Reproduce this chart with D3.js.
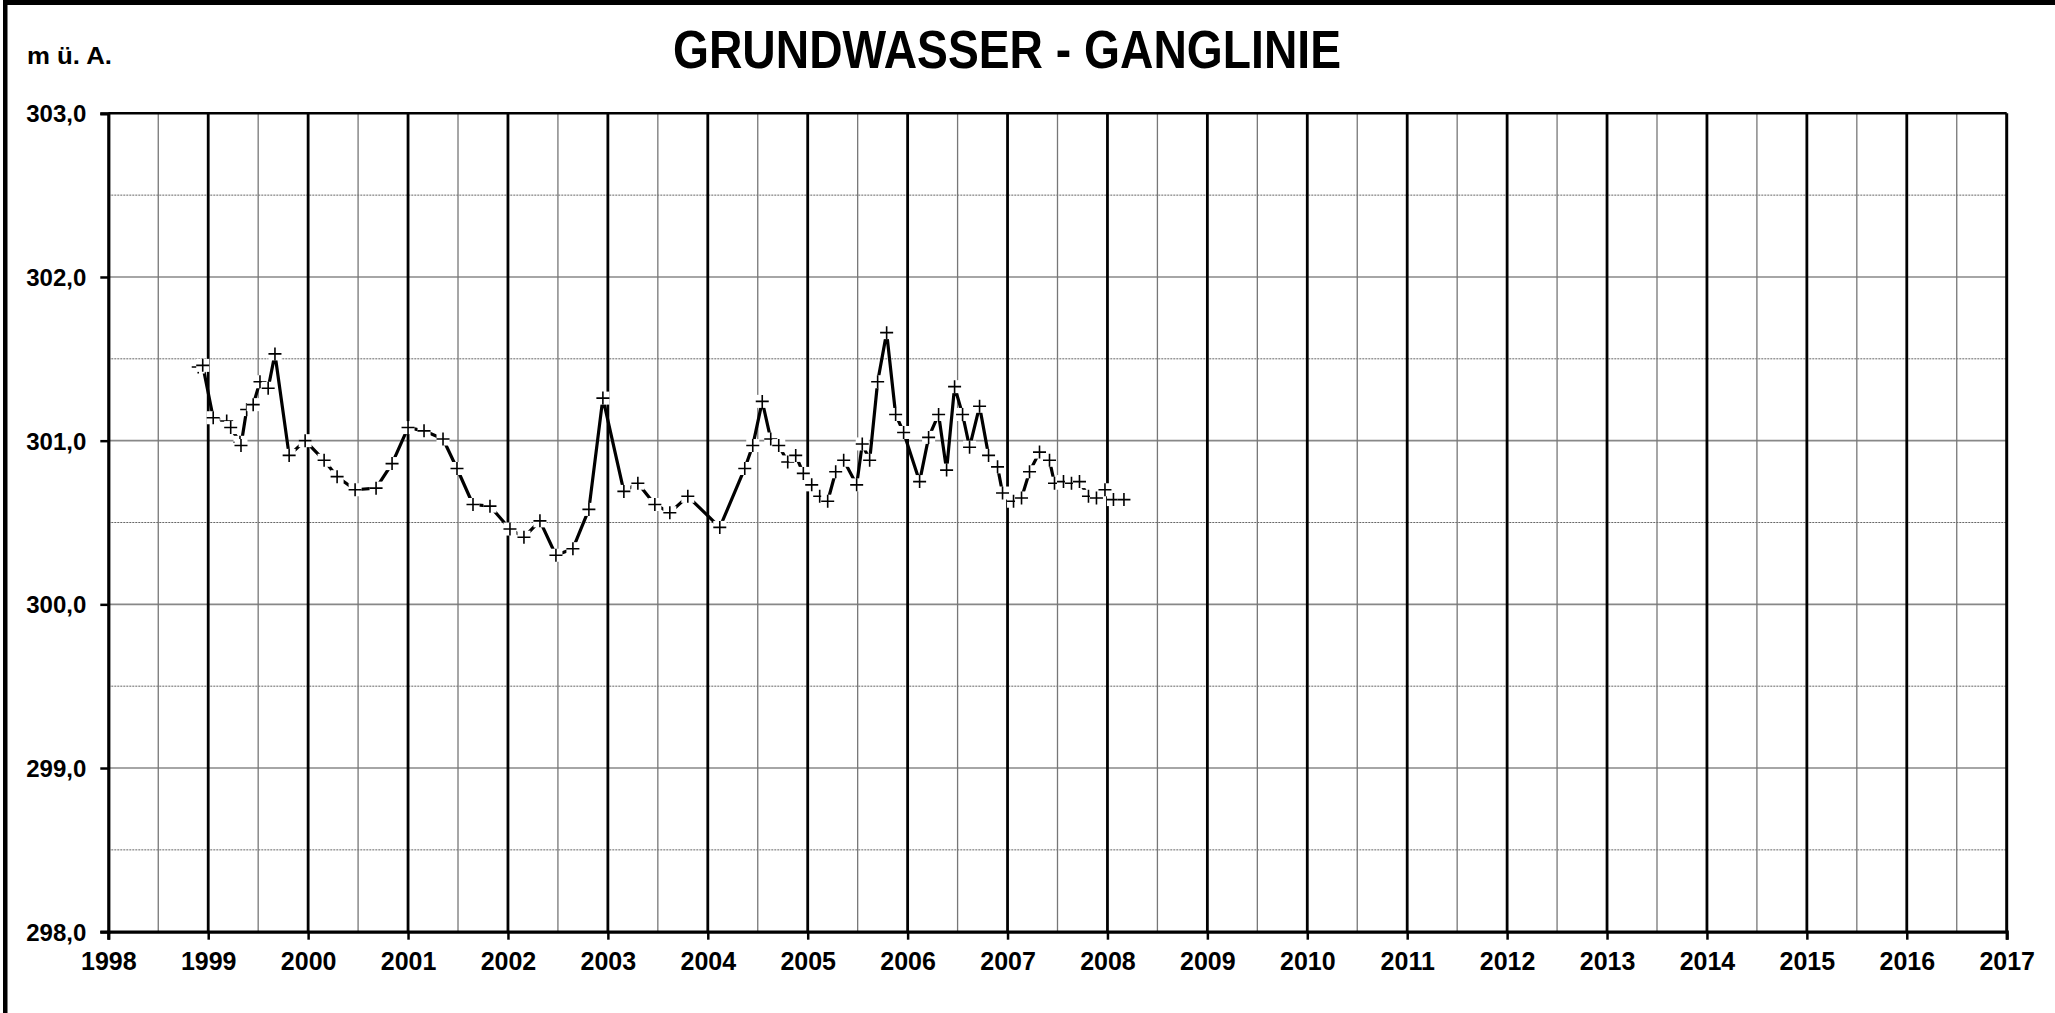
<!DOCTYPE html>
<html>
<head>
<meta charset="utf-8">
<script src="https://cdn.jsdelivr.net/npm/d3@7"></script>
<style>
  body { margin: 0; background: #fff; }
  svg { display: block; font-family: "Liberation Sans", Arial, sans-serif; }
</style>
</head>
<body>
<svg id="chart" width="2055" height="1013"></svg>
<script>
// measurement dates (decimal years) and groundwater level in m ü. A.
const dates = [1998.90, 1998.945, 1999.05, 1999.185, 1999.225, 1999.318, 1999.328, 1999.385, 1999.45, 1999.518,
  1999.60, 1999.668, 1999.81, 1999.97, 2000.16, 2000.29, 2000.47, 2000.68, 2000.84, 2001.00,
  2001.16, 2001.35, 2001.49, 2001.65, 2001.82, 2002.02, 2002.16, 2002.32, 2002.48, 2002.65,
  2002.81, 2002.95, 2003.16, 2003.30, 2003.47, 2003.62, 2003.80, 2004.12, 2004.37, 2004.45,
  2004.545, 2004.63, 2004.71, 2004.80, 2004.88, 2004.956, 2005.04, 2005.12, 2005.20, 2005.28,
  2005.36, 2005.49, 2005.546, 2005.62, 2005.70, 2005.79, 2005.88, 2005.96, 2006.12, 2006.21,
  2006.31, 2006.39, 2006.47, 2006.55, 2006.62, 2006.72, 2006.81, 2006.90, 2006.95, 2007.06,
  2007.14, 2007.22, 2007.32, 2007.42, 2007.47, 2007.56, 2007.64, 2007.72, 2007.81, 2007.89,
  2007.975, 2008.06, 2008.165];
const levels = [301.45, 301.46, 301.14, 301.12, 301.08, 300.99, 300.97, 301.19, 301.22, 301.36,
  301.32, 301.53, 300.91, 301.00, 300.88, 300.78, 300.70, 300.71, 300.86, 301.08,
  301.06, 301.01, 300.83, 300.61, 300.60, 300.46, 300.41, 300.51, 300.30, 300.34,
  300.58, 301.26, 300.69, 300.74, 300.61, 300.56, 300.66, 300.47, 300.83, 300.97,
  301.24, 301.01, 300.97, 300.87, 300.91, 300.80, 300.73, 300.66, 300.63, 300.81,
  300.88, 300.73, 300.98, 300.88, 301.36, 301.66, 301.16, 301.05, 300.75, 301.02,
  301.16, 300.82, 301.33, 301.16, 300.96, 301.21, 300.91, 300.84, 300.68, 300.63,
  300.65, 300.81, 300.93, 300.88, 300.74, 300.75, 300.74, 300.75, 300.66, 300.65,
  300.70, 300.64, 300.64];

const yearTicks = d3.range(1998, 2018);
const levelTicks = [298, 299, 300, 301, 302, 303];

const svg = d3.select("#chart");
const plotL = 108.3, plotR = 2006.7, plotT = 113.3, plotB = 931.7;

const x = d3.scaleLinear().domain([1998, 2017]).range([plotL, plotR]);
const y = d3.scaleLinear().domain([298, 303]).range([plotB, plotT]);

// outer frame (left + top only visible)
svg.append("rect").attr("x", 3).attr("y", 0).attr("width", 4.5).attr("height", 1013).attr("fill", "#000");
svg.append("rect").attr("x", 3).attr("y", 0).attr("width", 2052).attr("height", 5).attr("fill", "#000");

// titles
svg.append("text")
  .attr("x", 1007).attr("y", 68)
  .attr("text-anchor", "middle")
  .attr("textLength", 668).attr("lengthAdjust", "spacingAndGlyphs")
  .style("font-family", "'Liberation Sans Narrow', 'Liberation Sans', Arial, sans-serif")
  .style("font-size", "53px").style("font-weight", "bold")
  .text("GRUNDWASSER - GANGLINIE");

svg.append("text")
  .attr("x", 27).attr("y", 64)
  .attr("textLength", 85).attr("lengthAdjust", "spacingAndGlyphs")
  .style("font-size", "24px").style("font-weight", "bold")
  .text("m ü. A.");

// grid
const grid = svg.append("g");
grid.selectAll(".hhalf").data(d3.range(298.5, 303, 1)).enter().append("line")
  .attr("x1", plotL).attr("x2", plotR)
  .attr("y1", d => y(d)).attr("y2", d => y(d))
  .attr("stroke", "#666").attr("stroke-width", 1).attr("stroke-dasharray", "2,1");
grid.selectAll(".hfull").data([299, 300, 301, 302]).enter().append("line")
  .attr("x1", plotL).attr("x2", plotR)
  .attr("y1", d => y(d)).attr("y2", d => y(d))
  .attr("stroke", "#888").attr("stroke-width", 1.6);
grid.selectAll(".vhalf").data(d3.range(1998.5, 2017, 1)).enter().append("line")
  .attr("x1", d => x(d)).attr("x2", d => x(d))
  .attr("y1", plotT).attr("y2", plotB)
  .attr("stroke", "#777").attr("stroke-width", 1.3);
grid.selectAll(".vfull").data(d3.range(1999, 2017)).enter().append("line")
  .attr("x1", d => x(d)).attr("x2", d => x(d))
  .attr("y1", plotT).attr("y2", plotB)
  .attr("stroke", "#000").attr("stroke-width", 2.8);

// plot frame top/right
svg.append("line").attr("x1", plotL).attr("x2", plotR).attr("y1", plotT).attr("y2", plotT)
  .attr("stroke", "#000").attr("stroke-width", 2.5);
svg.append("line").attr("x1", plotR).attr("x2", plotR).attr("y1", plotT).attr("y2", plotB)
  .attr("stroke", "#000").attr("stroke-width", 3);

// axes
const yAxis = svg.append("g")
  .attr("transform", `translate(${plotL},0)`)
  .call(d3.axisLeft(y).tickValues(levelTicks).tickSize(8).tickPadding(14)
    .tickFormat(d => d3.format(".1f")(d).replace(".", ",")));
const xAxis = svg.append("g")
  .attr("transform", `translate(0,${plotB})`)
  .call(d3.axisBottom(x).tickValues(yearTicks).tickSize(8).tickPadding(12)
    .tickFormat(d3.format("d")));

[yAxis, xAxis].forEach(a => {
  a.select(".domain").attr("stroke", "#000").attr("stroke-width", 3.2);
  a.selectAll(".tick line").attr("stroke", "#000").attr("stroke-width", 2.5);
  a.selectAll("text")
    .style("font-family", "'Liberation Sans', Arial, sans-serif")
    .style("font-size", "24px").style("font-weight", "bold").attr("fill", "#000");
});
yAxis.selectAll("text").attr("dy", "0.36em");
xAxis.selectAll("text").attr("dy", "0.72em").style("font-size", "25px");

// data line
const pts = dates.map((d, i) => [d, levels[i]]);
svg.append("path")
  .datum(pts)
  .attr("fill", "none").attr("stroke", "#000").attr("stroke-width", 3.2)
  .attr("stroke-linejoin", "round")
  .attr("d", d3.line().x(d => x(d[0])).y(d => y(d[1])));

// markers: white box with a cross
const m = svg.append("g").selectAll("g").data(pts).enter().append("g")
  .attr("transform", d => `translate(${x(d[0])},${y(d[1])})`);
m.append("rect").attr("x", -6.5).attr("y", -6.5).attr("width", 13).attr("height", 13).attr("fill", "#fff");
m.append("path").attr("d", "M-6.5,0H6.5M0,-6.5V6.5").attr("stroke", "#000").attr("stroke-width", 1.6);
</script>
</body>
</html>
